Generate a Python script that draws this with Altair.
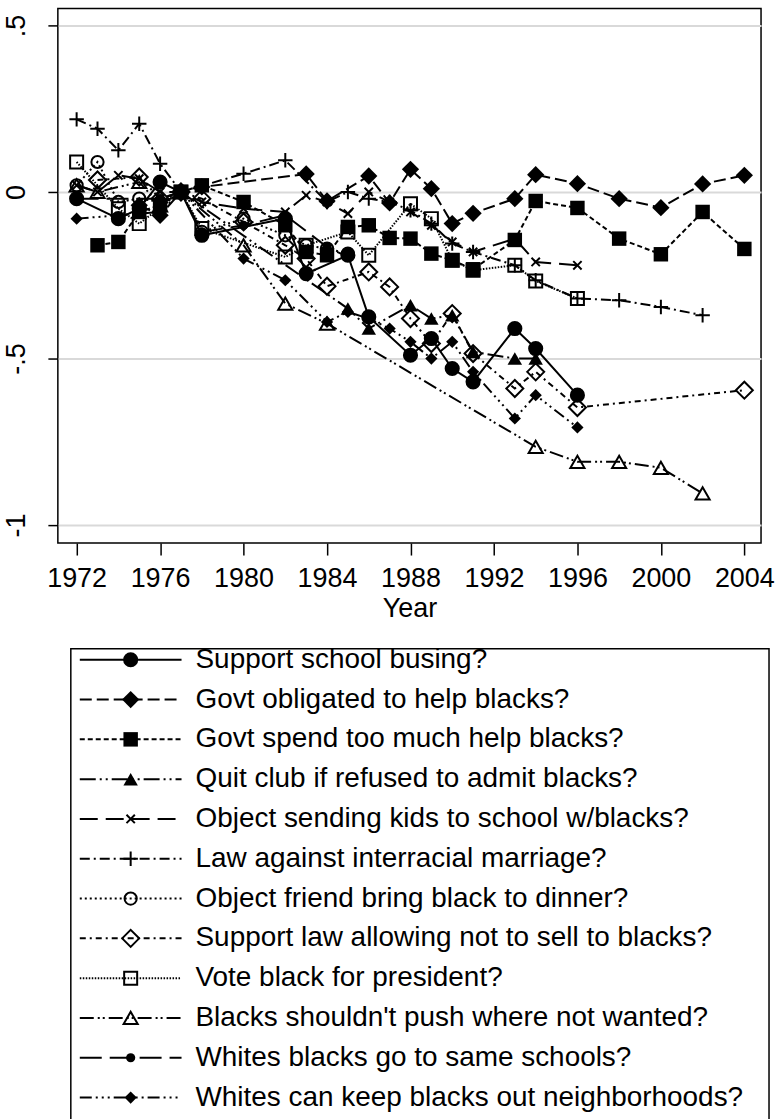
import altair as alt
import pandas as pd

# ---- data: year and change since 1977 for each survey item ----
LABELS = [
    "Support school busing?",
    "Govt obligated to help blacks?",
    "Govt spend too much help blacks?",
    "Quit club if refused to admit blacks?",
    "Object sending kids to school w/blacks?",
    "Law against interracial marriage?",
    "Object friend bring black to dinner?",
    "Support law allowing not to sell to blacks?",
    "Vote black for president?",
    "Blacks shouldn't push where not wanted?",
    "Whites blacks go to same schools?",
    "Whites can keep blacks out neighborhoods?",
]

BUSING_YEARS = [1972, 1974, 1975, 1976, 1977, 1978, 1982, 1983, 1985, 1986, 1988, 1989, 1990, 1991, 1993, 1994, 1996]
BUSING_VALS = [-0.02, -0.08, -0.05, 0.03, 0, -0.13, -0.08, -0.245, -0.19, -0.375, -0.49, -0.44, -0.53, -0.57, -0.41, -0.47, -0.61]

HELPBLK_YEARS = [1975, 1976, 1977, 1978, 1983, 1984, 1986, 1987, 1988, 1989, 1990, 1991, 1993, 1994, 1996, 1998, 2000, 2002, 2004]
HELPBLK_VALS = [-0.04, -0.07, 0, 0.015, 0.054, -0.027, 0.048, -0.033, 0.068, 0.01, -0.095, -0.064, -0.02, 0.052, 0.025, -0.02, -0.047, 0.024, 0.05]

NATRACE_YEARS = [1973, 1974, 1975, 1976, 1977, 1978, 1980, 1982, 1983, 1984, 1985, 1986, 1987, 1988, 1989, 1990, 1991, 1993, 1994, 1996, 1998, 2000, 2002, 2004]
NATRACE_VALS = [-0.16, -0.15, -0.06, -0.04, 0, 0.02, -0.03, -0.10, -0.18, -0.19, -0.105, -0.10, -0.138, -0.14, -0.185, -0.205, -0.232, -0.144, -0.027, -0.048, -0.14, -0.187, -0.06, -0.171]

CLUB_YEARS = [1977, 1985, 1986, 1988, 1989, 1990, 1991, 1993, 1994]
CLUB_VALS = [0, -0.35, -0.41, -0.34, -0.38, -0.37, -0.48, -0.5, -0.5]

KIDS_YEARS = [1972, 1973, 1974, 1975, 1976, 1977, 1978, 1980, 1982, 1983, 1984, 1985, 1986, 1987, 1988, 1989, 1990, 1991, 1993, 1994, 1996]
KIDS_VALS = [0.02, 0.0, 0.05, 0.04, 0.0, 0, -0.03, -0.05, -0.06, -0.01, -0.03, -0.065, 0.0, -0.03, -0.06, -0.1, -0.15, -0.18, -0.14, -0.21, -0.22]

MARRIAGE_YEARS = [1972, 1973, 1974, 1975, 1976, 1977, 1980, 1982, 1984, 1985, 1986, 1987, 1988, 1989, 1990, 1991, 1993, 1994, 1996, 1998, 2000, 2002]
MARRIAGE_VALS = [0.218, 0.19, 0.125, 0.205, 0.085, 0, 0.055, 0.095, -0.03, 0.0, -0.02, -0.03, -0.055, -0.095, -0.155, -0.18, -0.22, -0.265, -0.32, -0.325, -0.345, -0.37]

DINNER_YEARS = [1972, 1973, 1974, 1975, 1976, 1977, 1978, 1980, 1982, 1983, 1984, 1985]
DINNER_VALS = [0.02, 0.09, -0.03, -0.02, -0.03, 0, -0.12, -0.08, -0.13, -0.16, -0.17, -0.185]

SELL_YEARS = [1973, 1975, 1976, 1977, 1978, 1980, 1982, 1983, 1984, 1986, 1987, 1988, 1989, 1990, 1991, 1993, 1994, 1996, 2004]
SELL_VALS = [0.036, 0.045, -0.02, 0, -0.02, -0.09, -0.16, -0.2, -0.283, -0.24, -0.285, -0.38, -0.455, -0.365, -0.485, -0.59, -0.54, -0.647, -0.595]

PRES_YEARS = [1972, 1974, 1975, 1977, 1978, 1982, 1983, 1985, 1986, 1988, 1989, 1990, 1991, 1993, 1994, 1996]
PRES_VALS = [0.09, -0.05, -0.095, 0, -0.11, -0.195, -0.16, -0.12, -0.19, -0.035, -0.08, -0.205, -0.235, -0.22, -0.267, -0.32]

PUSH_YEARS = [1972, 1973, 1975, 1976, 1977, 1980, 1982, 1984, 1994, 1996, 1998, 2000, 2002]
PUSH_VALS = [0.02, 0.0, 0.03, -0.04, 0, -0.16, -0.335, -0.395, -0.765, -0.81, -0.81, -0.828, -0.905]

SCHOOLS_YEARS = [1972, 1976, 1977, 1978, 1980, 1982, 1984, 1985]
SCHOOLS_VALS = [-0.02, -0.02, 0, -0.12, -0.1, -0.07, -0.165, -0.195]

NEIGH_YEARS = [1972, 1976, 1977, 1980, 1982, 1984, 1985, 1986, 1987, 1988, 1989, 1990, 1991, 1993, 1994, 1996]
NEIGH_VALS = [-0.08, -0.06, 0, -0.2, -0.265, -0.39, -0.36, -0.38, -0.41, -0.45, -0.5, -0.45, -0.54, -0.68, -0.61, -0.707]

SERIES_DATA = [
    (BUSING_YEARS, BUSING_VALS),
    (HELPBLK_YEARS, HELPBLK_VALS),
    (NATRACE_YEARS, NATRACE_VALS),
    (CLUB_YEARS, CLUB_VALS),
    (KIDS_YEARS, KIDS_VALS),
    (MARRIAGE_YEARS, MARRIAGE_VALS),
    (DINNER_YEARS, DINNER_VALS),
    (SELL_YEARS, SELL_VALS),
    (PRES_YEARS, PRES_VALS),
    (PUSH_YEARS, PUSH_VALS),
    (SCHOOLS_YEARS, SCHOOLS_VALS),
    (NEIGH_YEARS, NEIGH_VALS),
]

X_TICKS = [1972, 1976, 1980, 1984, 1988, 1992, 1996, 2000, 2004]
Y_TICKS = [-1, -0.5, 0, 0.5]

# ---- per-series styling: dash pattern, marker shape, marker size, filled ----
PLUS = "M-1,0L1,0M0,-1L0,1"
CROSS = "M-1,-1L1,1M-1,1L1,-1"
STYLES = [
    dict(dash=None, shape="circle", size=230, filled=True),
    dict(dash=[12, 5], shape="diamond", size=300, filled=True),
    dict(dash=[5, 3], shape="square", size=210, filled=True),
    dict(dash=[16, 4, 2, 4, 2, 4], shape="triangle-up", size=210, filled=True),
    dict(dash=[18, 8], shape=CROSS, size=70, filled=False),
    dict(dash=[10, 4, 2, 4], shape=PLUS, size=210, filled=False),
    dict(dash=[2, 3], shape="circle", size=150, filled=False),
    dict(dash=[6, 4, 2, 4], shape="diamond", size=290, filled=False),
    dict(dash=[1.5, 1.5], shape="square", size=170, filled=False),
    dict(dash=[14, 4, 2, 3, 2, 4], shape="triangle-up", size=200, filled=False),
    dict(dash=[22, 8], shape="circle", size=85, filled=True),
    dict(dash=[12, 4, 2, 4, 2, 4, 2, 4], shape="diamond", size=150, filled=True),
]

FONT = "Liberation Sans"
FS = 27
LEG_FS = 28

x_scale = alt.Scale(domain=[1971.1, 2004.8], nice=False, zero=False)
y_scale = alt.Scale(domain=[-1.054, 0.551], nice=False, zero=False)

x_axis = alt.Axis(
    values=X_TICKS, format="d", title="Year", grid=False, domain=False,
    tickSize=12, tickWidth=1.5, tickColor="black", labelFontSize=FS,
    labelColor="black", labelPadding=11, titleFontSize=FS, titleFontWeight="normal",
    titleColor="black", titlePadding=4, labelFlush=False,
)
y_axis = alt.Axis(
    values=Y_TICKS, title=None, grid=True, gridColor="#d9d9d9", gridWidth=2,
    domain=False, tickSize=10, tickWidth=1.5, tickColor="black",
    labelFontSize=FS, labelColor="black", labelAngle=270, labelAlign="center",
    labelBaseline="bottom", labelPadding=17,
    labelExpr="datum.value == 0.5 ? '.5' : datum.value == -0.5 ? '-.5' : datum.value == 0 ? '0' : '-1'",
)

layers = []
for (years, vals), st in zip(SERIES_DATA, STYLES):
    df = pd.DataFrame({"year": years, "value": vals})
    base = alt.Chart(df).encode(
        x=alt.X("year:Q", scale=x_scale, axis=x_axis),
        y=alt.Y("value:Q", scale=y_scale, axis=y_axis),
    )
    line_kw = dict(color="black", strokeWidth=2)
    if st["dash"]:
        line_kw["strokeDash"] = st["dash"]
    layers.append(base.mark_line(**line_kw))
    layers.append(
        base.mark_point(
            shape=st["shape"], size=st["size"], filled=st["filled"],
            color="black", strokeWidth=2, opacity=1,
        )
    )

main = alt.layer(*layers).properties(width=705, height=536)

# ---- key below the plot, drawn in pixel units ----
LEG_W = 713
LEG_H = 477
ROW0 = 11
ROW_STEP = 39.9
lx = alt.Scale(domain=[0, LEG_W], nice=False, zero=False)
ly = alt.Scale(domain=[0, LEG_H], nice=False, zero=False, reverse=True)

box = alt.Chart(pd.DataFrame({"x": [13], "x2": [LEG_W], "y": [0], "y2": [LEG_H + 10]})).mark_rect(
    fill="white", stroke="black", strokeWidth=1.5
).encode(
    x=alt.X("x:Q", scale=lx, axis=None), x2="x2:Q",
    y=alt.Y("y:Q", scale=ly, axis=None), y2="y2:Q",
)

leg_layers = [box]
for i, (label, st) in enumerate(zip(LABELS, STYLES)):
    row = pd.DataFrame({"x": [22], "x2": [124], "xm": [73], "xt": [138],
                        "y": [ROW0 + i * ROW_STEP], "label": [label]})
    rb = alt.Chart(row)
    rule_kw = dict(color="black", strokeWidth=2)
    if st["dash"]:
        rule_kw["strokeDash"] = st["dash"]
    leg_layers.append(
        rb.mark_rule(**rule_kw).encode(
            x=alt.X("x:Q", scale=lx, axis=None), x2="x2:Q",
            y=alt.Y("y:Q", scale=ly, axis=None),
        )
    )
    leg_layers.append(
        rb.mark_point(shape=st["shape"], size=st["size"], filled=st["filled"],
                      color="black", strokeWidth=2, opacity=1).encode(
            x=alt.X("xm:Q", scale=lx, axis=None),
            y=alt.Y("y:Q", scale=ly, axis=None),
        )
    )
    leg_layers.append(
        rb.mark_text(align="left", baseline="middle", fontSize=LEG_FS, font=FONT, color="black").encode(
            x=alt.X("xt:Q", scale=lx, axis=None),
            y=alt.Y("y:Q", scale=ly, axis=None),
            text="label:N",
        )
    )

legend = alt.layer(*leg_layers).properties(
    width=LEG_W, height=LEG_H, view=alt.ViewBackground(stroke="transparent", strokeWidth=0)
)

chart = (
    alt.vconcat(main, legend, spacing=106, bounds="flush")
    .properties(padding={"left": 2, "top": 6, "right": 0, "bottom": 0}, background="white")
    .configure(font=FONT)
    .configure_view(stroke="black", strokeWidth=1.5)
    .configure_axis(labelFont=FONT, titleFont=FONT)
)

chart.save("out.html", embed_options={"renderer": "svg", "actions": False})
